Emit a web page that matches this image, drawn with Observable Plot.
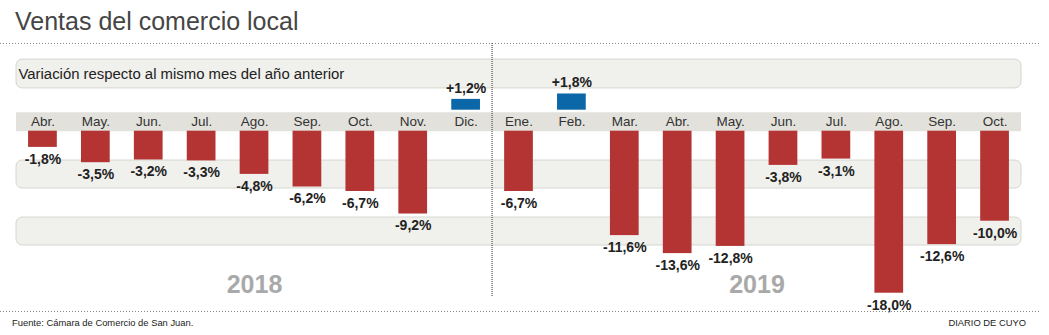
<!DOCTYPE html>
<html><head><meta charset="utf-8">
<script src="https://cdn.jsdelivr.net/npm/d3@7"></script>
<script src="https://cdn.jsdelivr.net/npm/@observablehq/plot@0.6"></script>
<style>
html,body{margin:0;padding:0;background:#fff;}
#wrap{position:relative;width:1049px;height:335px;overflow:hidden;font-family:"Liberation Sans",Arial,sans-serif;}
.title{position:absolute;left:15px;top:9px;font-size:25px;line-height:1;color:#454545;white-space:nowrap;}
.dots{position:absolute;left:0;width:1040px;height:1px;background:repeating-linear-gradient(to right,#8a8a8a 0 1px,transparent 1px 3px);}
.foot{position:absolute;top:318px;font-size:9.4px;line-height:1;color:#222;white-space:nowrap;}
#chart{position:absolute;left:0;top:44px;}
</style></head><body>
<div id="wrap">
<div class="title">Ventas del comercio local</div>
<div class="dots" style="top:43px"></div>
<div id="chart"></div>
<div class="dots" style="top:311px"></div>
<div class="foot" style="left:12px">Fuente: Cámara de Comercio de San Juan.</div>
<div class="foot" style="right:23px">DIARIO DE CUYO</div>
</div>
<script>
const subtitle = "Variación respecto al mismo mes del año anterior";
const years = ["2018", "2019"];
const months2018 = ["Abr.", "May.", "Jun.", "Jul.", "Ago.", "Sep.", "Oct.", "Nov.", "Dic."];
const values2018 = [-1.8, -3.5, -3.2, -3.3, -4.8, -6.2, -6.7, -9.2, 1.2];
const months2019 = ["Ene.", "Feb.", "Mar.", "Abr.", "May.", "Jun.", "Jul.", "Ago.", "Sep.", "Oct."];
const values2019 = [-6.7, 1.8, -11.6, -13.6, -12.8, -3.8, -3.1, -18.0, -12.6, -10.0];
// shaded background bands (in % units)
const bandLows = [4.75, -6.37, -12.7];
const bandHighs = [7.95, -3.26, -9.59];

const monthsByYear = [months2018, months2019];
const valuesByYear = [values2018, values2019];
const rows = [];
years.forEach((y, j) => monthsByYear[j].forEach((m, i) =>
  rows.push({year: y, month: m, key: y + " " + m, value: valuesByYear[j][i]})));
const neg = rows.filter(d => d.value < 0);
const pos = rows.filter(d => d.value > 0);
const bands = bandLows.map((lo, i) => ({lo, hi: bandHighs[i]}));
const fmt = d => (d.value > 0 ? "+" : "") + d.value.toFixed(1).replace(".", ",") + "%";

const W = 1049, H = 266, ML = 16, MR = 28;
const step = (W - ML - MR) / rows.length;
const yearRows = years.map((y, j) => {
  const n = monthsByYear[j].length, mid = Math.floor((n - 1) / 2);
  return {label: y, key: y + " " + monthsByYear[j][mid], dx: ((n - 1) / 2 - mid) * step};
});

const MB = 19; // month band thickness
const plot = Plot.plot({
  width: W, height: H,
  marginLeft: ML, marginRight: MR, marginTop: 0, marginBottom: 0,
  x: {type: "band", domain: rows.map(d => d.key), paddingInner: 0.457, paddingOuter: 0.2285, round: false, axis: null},
  y: {domain: [-19.92, 9.63], axis: null},
  style: {fontFamily: "'Liberation Sans', Arial, sans-serif", background: "transparent", overflow: "visible"},
  marks: [
    Plot.rect(bands, {y1: "lo", y2: "hi", fill: "#f0f0ec", stroke: "#d6d6d1", rx: 6}),
    Plot.text([subtitle], {text: d => d, y: (bandLows[0] + bandHighs[0]) / 2, frameAnchor: "left", textAnchor: "start", dx: 2, fontSize: 14.9, fill: "#222"}),
    Plot.ruleY([0], {stroke: "#e2e1db", strokeWidth: MB, dy: -MB / 2}),
    Plot.text(rows, {x: "key", y: 0, text: "month", dy: -MB / 2, fontSize: 13.5, fill: "#333"}),
    Plot.barY(neg, {x: "key", y: "value", fill: "#b43333"}),
    Plot.barY(pos, {x: "key", y: "value", fill: "#0b67a7", dy: -(MB + 2)}),
    Plot.text(neg, {x: "key", y: "value", text: fmt, dy: 12, fontSize: 14, fontWeight: "bold", fill: "#222"}),
    Plot.text(pos, {x: "key", y: "value", text: fmt, dy: -(MB + 2) - 11, fontSize: 14, fontWeight: "bold", fill: "#222"}),
    Plot.text(yearRows, {x: "key", text: "label", dx: 0, frameAnchor: "bottom", dy: -18, fontSize: 25, fontWeight: "bold", fill: "#a9a9a9"})
  ]
});
document.getElementById("chart").appendChild(plot);

// shift year labels to the centre of their months, and draw the divider between years
const xs = plot.scale("x");
d3.select(plot).selectAll("text").filter(function () { return years.includes(this.textContent); })
  .each(function () {
    const r = yearRows.find(r => r.label === this.textContent);
    const t = this.getAttribute("transform") || "";
    this.setAttribute("transform", t + ` translate(${r.dx},0)`);
  });
const last2018 = years[0] + " " + months2018[months2018.length - 1];
const first2019 = years[1] + " " + months2019[0];
const mid = (xs.apply(last2018) + xs.apply(first2019) + xs.bandwidth) / 2;
d3.select(plot).append("line")
  .attr("x1", mid).attr("x2", mid).attr("y1", -1).attr("y2", 253)
  .attr("stroke", "#333").attr("stroke-dasharray", "1,1");
</script>
</body></html>
